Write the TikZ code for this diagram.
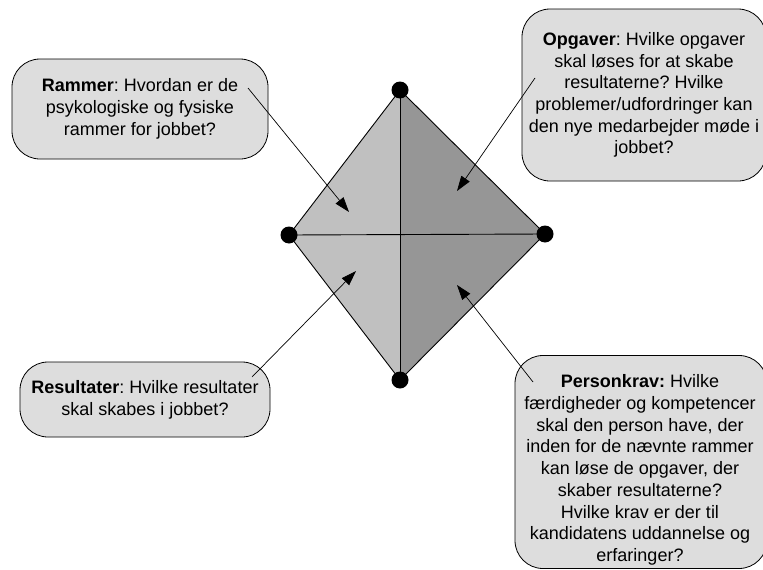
\documentclass[tikz,border=0pt]{standalone}
\usepackage{fontspec}
\setmainfont{Liberation Sans}
\usetikzlibrary{arrows.meta}
\definecolor{boxfill}{HTML}{DDDDDD}
\definecolor{lefthalf}{HTML}{C0C0C0}
\definecolor{righthalf}{HTML}{969696}
\frenchspacing
\begin{document}
\begin{tikzpicture}[x=1pt,y=-1pt,
  callout/.style={draw=black, line width=0.8pt, fill=boxfill, rounded corners=28pt,
    align=center, inner sep=0pt, font=\fontsize{18}{21.7}\selectfont},
  calltext/.style={align=center, inner sep=0pt, font=\fontsize{18}{21.7}\selectfont},
  vertex/.style={circle, fill=black, inner sep=0pt, minimum size=17pt},
  pointer/.style={draw=black, line width=0.7pt, -{Triangle[length=15pt,width=10pt]}},
  edge/.style={draw=black, line width=0.9pt}]
\useasboundingbox (0,0) rectangle (763,570);
\clip (0,0) rectangle (763,570);
\fill[white] (0,0) rectangle (763,570);

% diamond corners
\coordinate (T) at (400,90);
\coordinate (L) at (289,235);
\coordinate (R) at (545,234);
\coordinate (B) at (400,380);

% the two halves of the diamond
\fill[lefthalf] (T) -- (L) -- (B) -- cycle;
\fill[righthalf] (T) -- (R) -- (B) -- cycle;
\draw[edge] (T) -- (L) -- (B) -- (R) -- cycle;
\draw[edge] (T) -- (B);
\draw[edge] (L) -- (R);

% corner dots
\node[vertex] (vT) at (T) {};
\node[vertex] (vL) at (L) {};
\node[vertex] (vR) at (R) {};
\node[vertex] (vB) at (B) {};

% text boxes
\node[callout, minimum width=256pt, minimum height=100pt] (rammer) at (140,109)
  {\textbf{Rammer}: Hvordan er de\\psykologiske og fysiske\\rammer for jobbet?};
\node[callout, minimum width=244pt, minimum height=172pt] (opgaver) at (644,95)
  {\textbf{Opgaver}: Hvilke opgaver\\skal løses for at skabe\\resultaterne? Hvilke\\problemer/udfordringer kan\\den nye medarbejder møde i\\jobbet?};
\node[callout, minimum width=250pt, minimum height=75pt] (resultater) at (145,399.5)
  {\textbf{Resultater}: Hvilke resultater\\skal skabes i jobbet?};
\node[callout, minimum width=252pt, minimum height=213pt] (personkrav) at (641,462) {};
\node[calltext] (personkravtext) at (640,470)
  {\textbf{Personkrav:} Hvilke\\færdigheder og kompetencer\\skal den person have, der\\inden for de nævnte rammer\\kan løse de opgaver, der\\skaber resultaterne?\\Hvilke krav er der til\\kandidatens uddannelse og\\erfaringer?};

% arrow ends inside the boxes and inside the diamond
\coordinate (rammerS) at (248,88);
\coordinate (rammerE) at (349,212);
\coordinate (opgaverS) at (535,78);
\coordinate (opgaverE) at (457,191);
\coordinate (resultaterS) at (252,377);
\coordinate (resultaterE) at (356,271);
\coordinate (personkravS) at (533,382);
\coordinate (personkravE) at (457,285);

\draw[pointer] (rammerS) -- (rammerE);
\draw[pointer] (opgaverS) -- (opgaverE);
\draw[pointer] (resultaterS) -- (resultaterE);
\draw[pointer] (personkravS) -- (personkravE);
\end{tikzpicture}
\end{document}
